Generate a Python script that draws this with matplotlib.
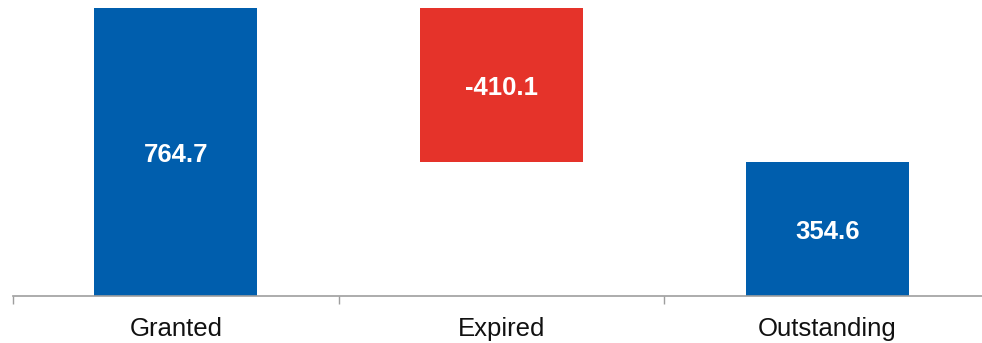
import matplotlib.pyplot as plt
import numpy as np

plt.rcParams['font.family'] = ['Liberation Sans', 'DejaVu Sans']

categories = ['Granted', 'Expired', 'Outstanding']
changes = [764.7, -410.1, 354.6]
kinds = ['total', 'delta', 'total']

blue = '#005EAD'
red = '#E5332A'

# waterfall: totals start at zero, deltas hang from the running total
bottoms, heights, colors = [], [], []
running = 0.0
for val, kind in zip(changes, kinds):
    if kind == 'total':
        bottoms.append(0.0)
        heights.append(val)
        running = val
        colors.append(blue)
    else:
        end = running + val
        bottoms.append(min(running, end))
        heights.append(abs(val))
        running = end
        colors.append(red if val < 0 else blue)

fig = plt.figure(figsize=(9.82, 3.43), dpi=100)
ax = fig.add_axes([13 / 982, 47 / 343, 977 / 982, 288 / 343])

x = np.arange(len(categories))
ax.bar(x, heights, bottom=bottoms, width=0.5, color=colors, zorder=2)

for xi, b, h, val in zip(x, bottoms, heights, changes):
    ax.annotate(f'{val:.1f}', (xi, b + h / 2), xytext=(0, -1.8),
                textcoords='offset points', ha='center', va='center',
                color='white', fontsize=18.5, fontweight='bold', zorder=3)

ax.set_xlim(-0.5, len(categories) - 0.5)
ax.set_ylim(0, max(changes))

for s in ['top', 'right', 'left']:
    ax.spines[s].set_visible(False)
ax.spines['bottom'].set_color('#9E9E9E')
ax.spines['bottom'].set_linewidth(1.2)
ax.spines['bottom'].set_clip_on(False)

ax.set_yticks([])
ax.set_xticks(x)
ax.set_xticklabels(categories, fontsize=18.5, color='#111111')
ax.tick_params(axis='x', which='major', length=0, pad=15)
ax.set_xticks(np.arange(-0.5, len(categories)), minor=True)
ax.tick_params(axis='x', which='minor', length=5.5, width=1, color='#9E9E9E')

fig.savefig('out.png', dpi=100)
